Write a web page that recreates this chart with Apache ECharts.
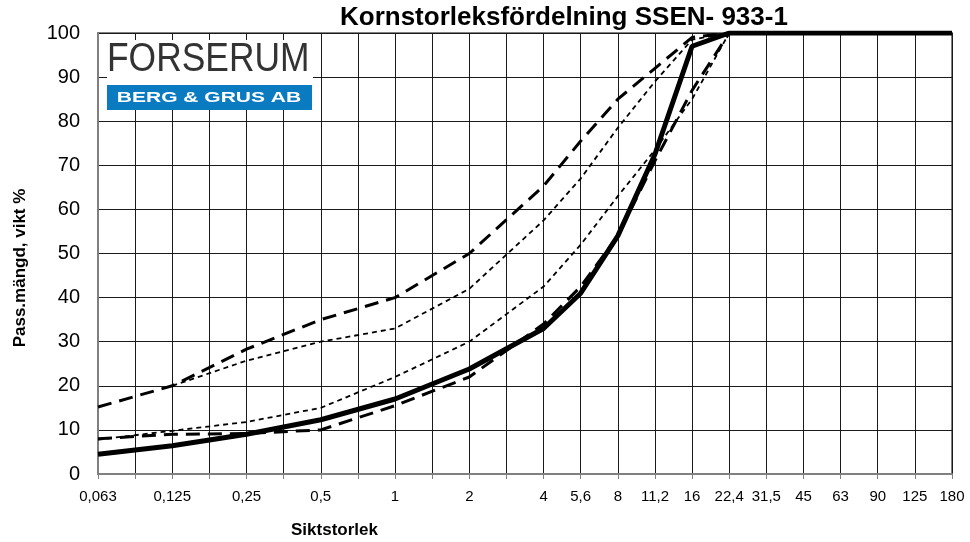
<!DOCTYPE html>
<html>
<head>
<meta charset="utf-8">
<script src="https://cdn.jsdelivr.net/npm/echarts@6/dist/echarts.min.js"></script>
<style>
html,body{margin:0;padding:0;background:#fff;}
#chart{width:970px;height:542px;}
</style>
</head>
<body>
<div id="chart"></div>
<script>
// Sieve sizes (mm) – every category is a gridline; only some are labelled
var categories = ['0,063','0,09','0,125','0,18','0,25','0,355','0,5','0,71','1','1,4','2','2,8','4','5,6','8','11,2','16','22,4','31,5','45','63','90','125','180'];
var tickLabels = ['0,063','','0,125','','0,25','','0,5','','1','','2','','4','5,6','8','11,2','16','22,4','31,5','45','63','90','125','180'];
var yTicks = [0,10,20,30,40,50,60,70,80,90,100];

// Passing percentage, by weight
var sample     = [4.5, null, 6.4, null, 9.0, null, 12.3, null, 17.0, null, 23.8, null, 33.0, 41.0, 54.0, 72.5, 97.0, 100, 100, 100, 100, 100, 100, 100];
var upperLong  = [15.2, null, 20.0, null, 28.3, null, 35.0, null, 40.0, null, 50.0, null, 65.3, 75.5, 85.0, 92.0, 99.0, 100, 100, 100, 100, 100, 100, 100];
var upperThin  = [null, null, 20.0, null, 25.7, null, 30.0, null, 33.0, null, 42.0, null, 57.5, 67.0, 78.5, 89.0, 98.5, 100, 100, 100, 100, 100, 100, 100];
var lowerThin  = [7.8, null, 9.8, null, 11.8, null, 15.0, null, 22.0, null, 30.0, null, 42.5, 52.0, 63.0, 73.5, 85.0, 100, 100, 100, 100, 100, 100, 100];
var lowerLong  = [8.0, null, 9.0, null, 9.2, null, 10.0, null, 15.5, null, 22.0, null, 34.0, 42.5, 54.0, 71.0, 87.0, 100, 100, 100, 100, 100, 100, 100];

var chart = echarts.init(document.getElementById('chart'), null, {renderer:'canvas'});
var F = '"Liberation Sans", Arial, sans-serif';

function mkLine(name, data, width, dash) {
  return {
    name: name, type: 'line', data: data, connectNulls: true,
    showSymbol: false, symbol: 'none', silent: true,
    lineStyle: {color: '#000', width: width, type: dash},
    emphasis: {disabled: true}
  };
}

chart.setOption({
  animation: false,
  backgroundColor: '#fff',
  title: [
    {text: 'Kornstorleksfördelning SSEN- 933-1', left: 335, top: 0,
     textStyle: {fontFamily: F, fontWeight: 'bold', fontSize: 26, color: '#000'}},
    {text: 'Siktstorlek', left: 286, top: 517,
     textStyle: {fontFamily: F, fontWeight: 'bold', fontSize: 17, color: '#000'}}
  ],
  grid: {left: 98, right: 18, top: 33, bottom: 68, show: true,
         borderColor: '#808080', borderWidth: 2, backgroundColor: 'transparent'},
  xAxis: {
    type: 'category', data: categories, boundaryGap: false,
    axisLine: {show: true, lineStyle: {color: '#808080', width: 2}},
    axisTick: {show: true, interval: 0, length: 5, lineStyle: {color: '#808080', width: 1}},
    axisLabel: {interval: 0, margin: 15, fontFamily: F, fontSize: 15, color: '#000',
      formatter: function (v, i) { return tickLabels[i]; }},
    splitLine: {show: true, interval: 0, lineStyle: {color: '#1a1a1a', width: 1}}
  },
  yAxis: {
    type: 'value', min: yTicks[0], max: yTicks[yTicks.length - 1], interval: 10,
    axisLine: {show: true, lineStyle: {color: '#808080', width: 2}},
    axisTick: {show: false},
    axisLabel: {margin: 18, fontFamily: F, fontSize: 20, color: '#000'},
    splitLine: {show: true, lineStyle: {color: '#1a1a1a', width: 1}}
  },
  graphic: [
    {type: 'text', x: 20, y: 268, rotation: Math.PI / 2,
     style: {text: 'Pass.mängd, vikt %', font: 'bold 17px ' + F, fill: '#000',
             align: 'center', verticalAlign: 'middle'}, z: 50},
    {type: 'rect', shape: {x: 107, y: 40, width: 206, height: 70}, style: {fill: '#fff'}, z: 100},
    {type: 'text', x: 107, y: 60, scaleX: 0.885,
     style: {text: 'FORSERUM', x: 0, y: 0, font: 'normal 40px ' + F, fill: '#333',
             align: 'left', verticalAlign: 'middle'}, z: 101},
    {type: 'rect', shape: {x: 107, y: 85, width: 205, height: 25}, style: {fill: '#0b7bc1'}, z: 101},
    {type: 'text', x: 209, y: 98, scaleX: 1.4,
     style: {text: 'BERG & GRUS AB', x: 0, y: 0, font: 'bold 15px ' + F, fill: '#fff',
             align: 'center', verticalAlign: 'middle'}, z: 102}
  ],
  series: [
    mkLine('upperThin', upperThin, 1.8, [5, 4]),
    mkLine('lowerThin', lowerThin, 1.8, [5, 4]),
    mkLine('upperLong', upperLong, 3, [14, 8]),
    mkLine('lowerLong', lowerLong, 3, [14, 8]),
    mkLine('sample', sample, 5, 'solid')
  ]
});
</script>
</body>
</html>
